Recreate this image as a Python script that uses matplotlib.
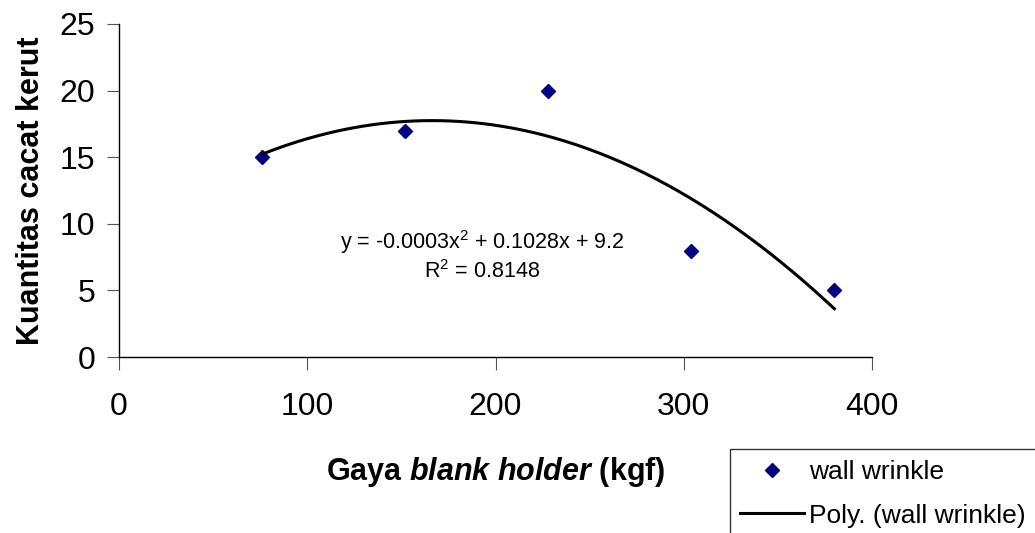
import numpy as np
import matplotlib
matplotlib.use('Agg')
from matplotlib import pyplot as plt

plt.rcParams['font.family'] = ['Liberation Sans', 'DejaVu Sans']
plt.rcParams['mathtext.fontset'] = 'custom'
plt.rcParams['mathtext.rm'] = 'Liberation Sans'
plt.rcParams['mathtext.it'] = 'Liberation Sans:italic'
plt.rcParams['mathtext.bf'] = 'Liberation Sans:bold'
plt.rcParams['mathtext.bfit'] = 'Liberation Sans:italic:bold'

# data
force = [76, 152, 228, 304, 380]
wrinkle = [15, 17, 20, 8, 5]
xticks = [0, 100, 200, 300, 400]
yticks = [0, 5, 10, 15, 20, 25]

coef = np.polyfit(force, wrinkle, 2)
xs = np.linspace(min(force), max(force), 200)
ys = np.polyval(coef, xs)

fig = plt.figure(figsize=(10.35, 5.33), dpi=100)
ax = fig.add_axes([0.115, 0.330, 0.7275, 0.625])

pts, = ax.plot(force, wrinkle, linestyle='none', marker='D', markersize=7.5,
               color='#000080', label='wall wrinkle')
trend, = ax.plot(xs, ys, color='black', lw=2.2, label='Poly. (wall wrinkle)')

ax.set_xlim(0, 400)
ax.set_ylim(0, 25)
ax.set_xticks(xticks)
ax.set_yticks(yticks)
ax.tick_params(labelsize=23, length=9, direction='out', color='#555555')
ax.tick_params(axis='x', pad=16)
ax.tick_params(axis='y', pad=8)
for s in ['top', 'right']:
    ax.spines[s].set_visible(False)
for s in ['left', 'bottom']:
    ax.spines[s].set_color('black')
    ax.spines[s].set_linewidth(1)

ax.set_ylabel('Kuantitas cacat kerut', fontsize=22, fontweight='bold', labelpad=10)
ax.set_xlabel('Gaya $\\mathbfit{blank\\ holder}$ (kgf)', fontsize=22,
              fontweight='bold', labelpad=24)

ax.text(0.482, 0.305, 'y = -0.0003x$^2$ + 0.1028x + 9.2\nR$^2$ = 0.8148',
        transform=ax.transAxes, ha='center', va='center', fontsize=15.5,
        linespacing=1.25)

leg = fig.legend(handles=[pts, trend], loc='upper left',
                 bbox_to_anchor=(0.705, 0.157), fontsize=19, frameon=True,
                 fancybox=False, edgecolor='black', handlelength=2.4,
                 borderpad=0.4, labelspacing=0.75, handletextpad=0.2,
                 borderaxespad=0)
leg.get_frame().set_linewidth(1)

fig.savefig('out.png', dpi=100)
